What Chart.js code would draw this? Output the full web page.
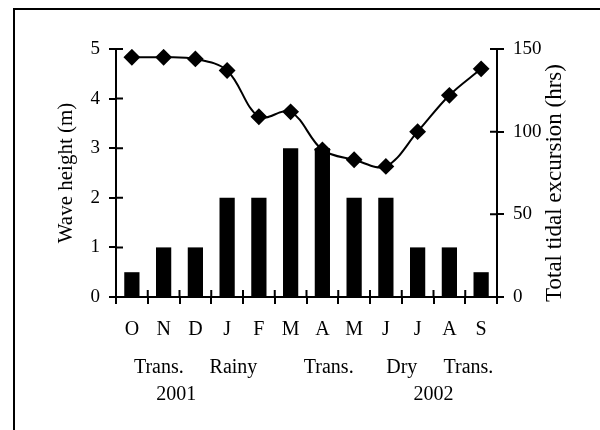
<!DOCTYPE html>
<html>
<head>
    <title>Wave height and tidal excursion</title>
    <script src="https://cdn.jsdelivr.net/npm/chart.js"></script>
    <style>
        body { margin: 0; background: #fff; }
        #waveChart { display: block; }
    </style>
</head>
<body>

<canvas id="waveChart" width="600" height="430"></canvas>

<script>
const months = ['O', 'N', 'D', 'J', 'F', 'M', 'A', 'M', 'J', 'J', 'A', 'S'];
const waveHeight = [0.5, 1, 1, 2, 2, 3, 3, 2, 2, 1, 1, 0.5];
const tidalExcursion = [145, 145, 144, 137, 109, 112, 89, 83, 79, 100, 122, 138];
const seasons = ['Trans.', 'Rainy', 'Trans.', 'Dry', 'Trans.'];
const seasonAt = [0.85, 3.2, 6.2, 8.5, 10.6];
const years = ['2001', '2002'];
const yearAt = [1.4, 9.5];
const rightTitle = 'Total tidal excursion (hrs)';

const serif = 'Liberation Serif';

// frame, cross ticks, right title (reads upwards) and the season / year rows
const extras = {
    id: 'extras',
    beforeDraw(chart) {
        const ctx = chart.ctx;
        ctx.save();
        ctx.strokeStyle = '#000';
        ctx.lineWidth = 2;
        ctx.beginPath();
        ctx.moveTo(14, 430);
        ctx.lineTo(14, 9);
        ctx.lineTo(600, 9);
        ctx.stroke();
        ctx.restore();
    },
    afterDraw(chart) {
        const ctx = chart.ctx;
        const {x, y, y1} = chart.scales;
        const area = chart.chartArea;
        ctx.save();
        ctx.strokeStyle = '#000';
        ctx.lineWidth = 2;
        ctx.beginPath();
        for (let i = 0; i <= months.length; i++) {
            const px = x.getPixelForValue(i - 0.5);
            ctx.moveTo(px, area.bottom);
            ctx.lineTo(px, area.bottom - 7);
        }
        y.ticks.forEach(t => {
            const py = y.getPixelForValue(t.value);
            ctx.moveTo(area.left, py);
            ctx.lineTo(area.left + 7, py);
        });
        y1.ticks.forEach(t => {
            const py = y1.getPixelForValue(t.value);
            ctx.moveTo(area.right, py);
            ctx.lineTo(area.right - 7, py);
        });
        ctx.stroke();

        ctx.fillStyle = '#000';
        ctx.font = '20px "' + serif + '"';
        ctx.textAlign = 'center';
        ctx.textBaseline = 'alphabetic';
        seasons.forEach((s, i) => {
            ctx.fillText(s, x.getPixelForValue(seasonAt[i]), area.bottom + 76);
        });
        years.forEach((s, i) => {
            ctx.fillText(s, x.getPixelForValue(yearAt[i]), area.bottom + 103);
        });

        ctx.translate(y1.right - 45, (area.top + area.bottom) / 2 + 10);
        ctx.rotate(-Math.PI / 2);
        ctx.font = '23px "' + serif + '"';
        ctx.textBaseline = 'middle';
        ctx.fillText(rightTitle, 0, 0);
        ctx.restore();
    }
};

const axisGrid = {
    drawOnChartArea: false,
    tickLength: 7,
    lineWidth: 2,
    color: '#000'
};

new Chart(document.getElementById('waveChart'), {
    type: 'bar',
    data: {
        labels: months,
        datasets: [{
            type: 'line',
            label: 'Total tidal excursion',
            data: tidalExcursion,
            yAxisID: 'y1',
            borderColor: '#000',
            borderWidth: 2,
            backgroundColor: '#000',
            pointStyle: 'rectRot',
            pointRadius: 7,
            pointBackgroundColor: '#000',
            pointBorderColor: '#000',
            tension: 0.35,
            order: 1
        }, {
            label: 'Wave height',
            data: waveHeight,
            yAxisID: 'y',
            backgroundColor: '#000',
            categoryPercentage: 1,
            barPercentage: 0.48,
            order: 2
        }]
    },
    options: {
        responsive: false,
        animation: false,
        layout: { padding: { top: 49, left: 0, right: 0, bottom: 0 } },
        plugins: {
            legend: { display: false },
            tooltip: { enabled: false }
        },
        scales: {
            x: {
                offset: true,
                grid: Object.assign({ offset: true }, axisGrid),
                border: { color: '#000', width: 2 },
                ticks: {
                    color: '#000',
                    padding: 14,
                    font: { family: serif, size: 20 }
                },
                afterFit(s) { s.height = 133; }
            },
            y: {
                position: 'left',
                min: 0,
                max: 5,
                grid: axisGrid,
                border: { color: '#000', width: 2 },
                ticks: {
                    stepSize: 1,
                    color: '#000',
                    padding: 9,
                    font: { family: serif, size: 19 }
                },
                title: {
                    display: true,
                    text: 'Wave height (m)',
                    color: '#000',
                    font: { family: serif, size: 21 },
                    padding: { top: 54 }
                },
                afterFit(s) { s.width = 116; }
            },
            y1: {
                position: 'right',
                min: 0,
                max: 150,
                grid: axisGrid,
                border: { color: '#000', width: 2 },
                ticks: {
                    stepSize: 50,
                    color: '#000',
                    padding: 9,
                    font: { family: serif, size: 19 }
                },
                afterFit(s) { s.width = 103; }
            }
        }
    },
    plugins: [extras]
});
</script>

</body>
</html>
